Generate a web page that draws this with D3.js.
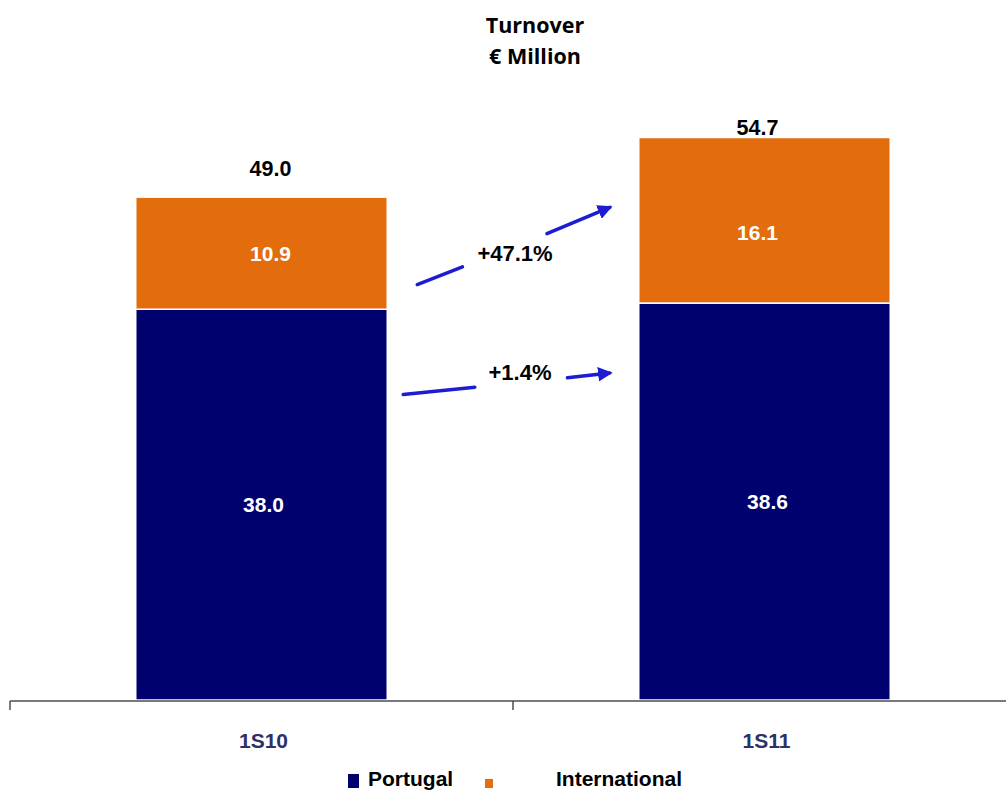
<!DOCTYPE html>
<html>
<head>
<meta charset="utf-8">
<script src="https://cdn.jsdelivr.net/npm/d3@7"></script>
<style>
  html, body { margin: 0; padding: 0; background: #fff; }
  svg { display: block; }
</style>
</head>
<body>
<svg id="chart" width="1006" height="792"></svg>
<script>
// Turnover by half-year, split by market (€ million)
const periods = ["1S10", "1S11"];
const seriesNames = ["Portugal", "International"];
const portugal = [38.0, 38.6];
const international = [10.9, 16.1];
const totals = [49.0, 54.7];
const growthLabels = ["+47.1%", "+1.4%"]; // International, Portugal

const colors = { Portugal: "#00006e", International: "#e36c0c" };
const arrowColor = "#1c1cd2";

const svg = d3.select("#chart");
const W = 1006, H = 792;

const x = d3.scaleBand().domain(periods).range([10, 1016])
  .paddingInner(0.5).paddingOuter(0.25);
const y = d3.scaleLinear().domain([0, 60]).range([700, 83]);

const rows = periods.map((p, i) => ({ period: p, Portugal: portugal[i], International: international[i] }));
const stack = d3.stack().keys(seriesNames)(rows);

// Stacked bars
svg.append("g").selectAll("g").data(stack).join("g")
  .attr("fill", d => colors[d.key])
  .selectAll("rect").data(d => d).join("rect")
  .attr("x", d => x(d.data.period))
  .attr("width", x.bandwidth())
  .attr("y", d => y(d[1]))
  .attr("height", d => y(d[0]) - y(d[1]))
  .attr("stroke", "#fff")
  .attr("stroke-width", 1.5);

// Segment values (white, centred in each segment)
const nudge = { Portugal: [[2, 0], [3, 0]], International: [[9, 0], [-7, 12]] };
stack.forEach(s => {
  svg.append("g").selectAll("text").data(s).join("text")
    .attr("x", (d, i) => x(d.data.period) + x.bandwidth() / 2 + nudge[s.key][i][0])
    .attr("y", (d, i) => (y(d[0]) + y(d[1])) / 2 + nudge[s.key][i][1])
    .attr("dy", "0.35em")
    .attr("text-anchor", "middle")
    .attr("font-family", "Liberation Sans, Arial, sans-serif")
    .attr("font-weight", "bold")
    .attr("font-size", 21)
    .attr("fill", "#fff")
    .text(d => (d[1] - d[0]).toFixed(1));
});

// Totals above the bars
const totalLift = [20, 3];
const totalShift = [9, -7];
svg.append("g").selectAll("text").data(totals).join("text")
  .attr("x", (d, i) => x(periods[i]) + x.bandwidth() / 2 + totalShift[i])
  .attr("y", (d, i) => y(d) - totalLift[i])
  .attr("text-anchor", "middle")
  .attr("font-family", "Liberation Sans, Arial, sans-serif")
  .attr("font-weight", "bold")
  .attr("font-size", 21.5)
  .attr("fill", "#000")
  .text(d => d.toFixed(1));

// Category axis
const axisY = 701;
const axis = svg.append("g");
axis.append("line")
  .attr("x1", x.range()[0]).attr("x2", W)
  .attr("y1", axisY).attr("y2", axisY)
  .attr("stroke", "#4d4d4d").attr("stroke-width", 1.5);
const tickXs = [x.range()[0], x.range()[0] + x.step()];
axis.selectAll("line.tick").data(tickXs).join("line")
  .attr("class", "tick")
  .attr("x1", d => d).attr("x2", d => d)
  .attr("y1", axisY).attr("y2", axisY + 9)
  .attr("stroke", "#4d4d4d").attr("stroke-width", 1.5);
axis.selectAll("text").data(periods).join("text")
  .attr("x", d => x(d) + x.bandwidth() / 2 + 2)
  .attr("y", 748)
  .attr("text-anchor", "middle")
  .attr("font-family", "Liberation Sans, Arial, sans-serif")
  .attr("font-weight", "bold")
  .attr("font-size", 21)
  .attr("fill", "#2e3168")
  .text(d => d);

// Growth arrows between the bars (line broken where the label sits)
const defs = svg.append("defs");
defs.append("marker")
  .attr("id", "head")
  .attr("viewBox", "0 0 10 10")
  .attr("refX", 8).attr("refY", 5)
  .attr("markerWidth", 4.2).attr("markerHeight", 4.2)
  .attr("markerUnits", "strokeWidth")
  .attr("orient", "auto")
  .append("path").attr("d", "M0,0 L10,5 L0,10 Z").attr("fill", arrowColor);

const leftEdge = x(periods[0]) + x.bandwidth();
const rightEdge = x(periods[1]);
const arrows = [
  { label: growthLabels[0], x0: leftEdge + 30, v0: 40.4, x1: rightEdge - 25, v1: 47.9, gap: [0.23, 0.66], tx: 515, ty: 261 },
  { label: growthLabels[1], x0: leftEdge + 16, v0: 29.7, x1: rightEdge - 25, v1: 31.8, gap: [0.34, 0.78], tx: 520, ty: 380 }
];
arrows.forEach(a => {
  const p = t => [a.x0 + (a.x1 - a.x0) * t, y(a.v0) + (y(a.v1) - y(a.v0)) * t];
  const s1 = [p(0), p(a.gap[0])], s2 = [p(a.gap[1]), p(1)];
  svg.append("line")
    .attr("x1", s1[0][0]).attr("y1", s1[0][1]).attr("x2", s1[1][0]).attr("y2", s1[1][1])
    .attr("stroke", arrowColor).attr("stroke-width", 3.5).attr("stroke-linecap", "round");
  svg.append("line")
    .attr("x1", s2[0][0]).attr("y1", s2[0][1]).attr("x2", s2[1][0] - 4).attr("y2", s2[1][1])
    .attr("stroke", arrowColor).attr("stroke-width", 3.5).attr("stroke-linecap", "round")
    .attr("marker-end", "url(#head)");
  svg.append("text")
    .attr("x", a.tx).attr("y", a.ty)
    .attr("text-anchor", "middle")
    .attr("font-family", "Liberation Sans, Arial, sans-serif")
    .attr("font-weight", "bold")
    .attr("font-size", 22)
    .attr("fill", "#000")
    .text(a.label);
});

// Title
const title = svg.append("text")
  .attr("text-anchor", "middle")
  .attr("font-family", "Open Sans, sans-serif")
  .attr("font-weight", "bold")
  .attr("font-size", 21.5)
  .attr("fill", "#000");
title.append("tspan").attr("x", 535).attr("y", 33).text("Turnover");
title.append("tspan").attr("x", 535).attr("y", 64).text("€ Million");

// Legend
const legend = svg.append("g");
legend.append("rect").attr("x", 348).attr("y", 774).attr("width", 11).attr("height", 14)
  .attr("fill", colors.Portugal);
legend.append("text").attr("x", 368).attr("y", 786)
  .attr("font-family", "Liberation Sans, Arial, sans-serif")
  .attr("font-weight", "bold").attr("font-size", 21).attr("fill", "#000")
  .text(seriesNames[0]);
legend.append("rect").attr("x", 485).attr("y", 779).attr("width", 8).attr("height", 9)
  .attr("fill", colors.International);
legend.append("text").attr("x", 556).attr("y", 786)
  .attr("font-family", "Liberation Sans, Arial, sans-serif")
  .attr("font-weight", "bold").attr("font-size", 21).attr("fill", "#000")
  .text(seriesNames[1]);
</script>
</body>
</html>
